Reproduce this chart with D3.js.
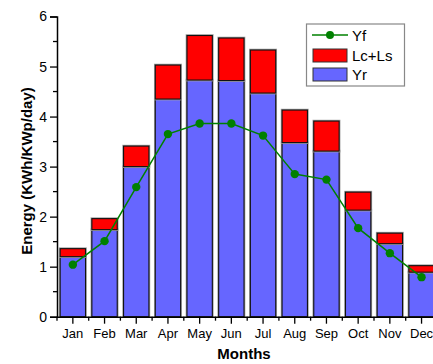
<!DOCTYPE html>
<html>
<head>
<meta charset="utf-8">
<script src="https://cdn.jsdelivr.net/npm/d3@7"></script>
<style>
  html, body { margin: 0; padding: 0; background: #fff; }
  svg { display: block; font-family: "Liberation Sans", Arial, sans-serif; }
</style>
</head>
<body>
<svg id="chart" width="433" height="364"></svg>
<script>
// Monthly PV performance: reference yield, losses and final yield
const months = ["Jan","Feb","Mar","Apr","May","Jun","Jul","Aug","Sep","Oct","Nov","Dec"];
const yr   = [1.20, 1.74, 3.00, 4.35, 4.73, 4.72, 4.47, 3.48, 3.31, 2.13, 1.46, 0.89];
const loss = [0.16, 0.22, 0.41, 0.68, 0.89, 0.85, 0.86, 0.65, 0.60, 0.36, 0.21, 0.13];
const yf   = [1.04, 1.51, 2.59, 3.65, 3.86, 3.86, 3.62, 2.85, 2.74, 1.77, 1.27, 0.79];
const yTicks = [0, 1, 2, 3, 4, 5, 6];

(function () {
const svg = d3.select("#chart");
const mLeft = 57, mTop = 16.5, mBottom = 316.7, step = 31.7;
const mRight = mLeft + step * months.length;

const x = d3.scaleBand().domain(months).range([mLeft, mRight]).paddingInner(0.2).paddingOuter(0.1);
const y = d3.scaleLinear().domain([0, 6]).range([mBottom, mTop]);

const stacked = months.map((m, i) => ({ m, yr: yr[i], total: yr[i] + loss[i], yf: yf[i] }));

// bars: gray halo under a dark outline
function bar(sel, y0, y1, fill) {
  sel.append("rect")
    .attr("x", d => x(d.m)).attr("width", x.bandwidth())
    .attr("y", d => y(y1(d))).attr("height", d => y(y0(d)) - y(y1(d)))
    .attr("fill", "none").attr("stroke", "#a0a0a0").attr("stroke-width", 2.6);
  sel.append("rect")
    .attr("x", d => x(d.m)).attr("width", x.bandwidth())
    .attr("y", d => y(y1(d))).attr("height", d => y(y0(d)) - y(y1(d)))
    .attr("fill", fill).attr("stroke", "#111").attr("stroke-width", 1.1);
}
const g = svg.append("g").selectAll("g").data(stacked).join("g");
bar(g, d => 0, d => d.yr, "#6666ff");
bar(g, d => d.yr, d => d.total, "#ff0000");

// final yield line
const line = d3.line().x(d => x(d.m) + x.bandwidth() / 2).y(d => y(d.yf));
svg.append("path").datum(stacked).attr("d", line)
  .attr("fill", "none").attr("stroke", "#008000").attr("stroke-width", 1.5);
svg.append("g").selectAll("circle").data(stacked).join("circle")
  .attr("cx", d => x(d.m) + x.bandwidth() / 2).attr("cy", d => y(d.yf))
  .attr("r", 4.2).attr("fill", "#008000");

// y axis with minor ticks
const yAxis = d3.axisLeft(y).tickValues(yTicks).tickSize(7).tickPadding(3).tickFormat(d3.format("d"));
const yg = svg.append("g").attr("transform", `translate(${mLeft},0)`).call(yAxis);
yg.select(".domain").attr("stroke", "#000").attr("stroke-width", 1.5);
yg.selectAll(".tick line").attr("stroke-width", 1.3);
yg.selectAll("text").attr("font-size", 14).attr("fill", "#000");
const yMinor = d3.range(0.5, 6, 1);
svg.append("g").selectAll("line").data(yMinor).join("line")
  .attr("x1", mLeft - 4).attr("x2", mLeft).attr("y1", d => y(d)).attr("y2", d => y(d))
  .attr("stroke", "#000").attr("stroke-width", 1.3);

// x axis: major ticks at month centres, minor at boundaries
const xAxis = d3.axisBottom(x).tickSize(7).tickPadding(5).tickSizeOuter(0);
const xg = svg.append("g").attr("transform", `translate(0,${mBottom})`).call(xAxis);
xg.select(".domain").attr("stroke", "#000").attr("stroke-width", 1.5);
xg.selectAll(".tick line").attr("stroke-width", 1.3);
xg.selectAll("text").attr("font-size", 13).attr("fill", "#000");
const bounds = d3.range(months.length + 1).map(i => mLeft + i * step);
svg.append("g").selectAll("line").data(bounds).join("line")
  .attr("x1", d => d).attr("x2", d => d).attr("y1", mBottom).attr("y2", mBottom + 4)
  .attr("stroke", "#000").attr("stroke-width", 1.3);

// axis titles
svg.append("text").attr("x", 244).attr("y", 359).attr("text-anchor", "middle")
  .attr("font-size", 15).attr("font-weight", "bold").text("Months");
svg.append("text").attr("transform", "translate(32,171) rotate(-90)")
  .attr("text-anchor", "middle").attr("font-size", 15).attr("font-weight", "bold")
  .text("Energy (KWh/KWp/day)");

// legend
const lg = svg.append("g");
lg.append("rect").attr("x", 306.5).attr("y", 24).attr("width", 98).attr("height", 62)
  .attr("fill", "#fff").attr("stroke", "#888").attr("stroke-width", 1.2);
lg.append("line").attr("x1", 312).attr("x2", 348).attr("y1", 35).attr("y2", 35)
  .attr("stroke", "#008000").attr("stroke-width", 1.5);
lg.append("circle").attr("cx", 330).attr("cy", 35).attr("r", 4).attr("fill", "#008000");
const swatches = [{ label: "Lc+Ls", fill: "#ff0000", cy: 55.5 }, { label: "Yr", fill: "#6666ff", cy: 74.5 }];
lg.selectAll("rect.sw").data(swatches).join("rect").attr("class", "sw")
  .attr("x", 313).attr("width", 34).attr("y", d => d.cy - 6.5).attr("height", 13)
  .attr("fill", d => d.fill).attr("stroke", "#333").attr("stroke-width", 1);
const labels = [{ label: "Yf", cy: 35 }, ...swatches];
lg.selectAll("text").data(labels).join("text")
  .attr("x", 352).attr("y", d => d.cy + 5.5).attr("font-size", 15).text(d => d.label);
})();
</script>
</body>
</html>
